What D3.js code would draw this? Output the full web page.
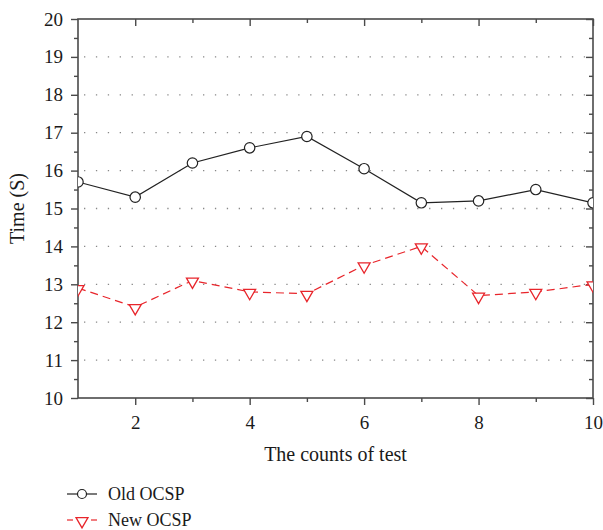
<!DOCTYPE html>
<html>
<head>
<meta charset="utf-8">
<script src="https://cdn.jsdelivr.net/npm/d3@7"></script>
<style>
  body { margin: 0; background: #fff; }
  svg text { font-family: "Liberation Serif", "DejaVu Serif", serif; fill: #1a1a1a; }
</style>
</head>
<body>
<div id="canva"></div>
<script>
const counts = [1, 2, 3, 4, 5, 6, 7, 8, 9, 10];
const oldOcsp = [15.7, 15.3, 16.2, 16.6, 16.9, 16.05, 15.15, 15.2, 15.5, 15.15];
const newOcsp = [12.9, 12.4, 13.1, 12.8, 12.75, 13.5, 14.0, 12.7, 12.8, 13.0];
const xTicks = [2, 4, 6, 8, 10];
const yTicks = [10, 11, 12, 13, 14, 15, 16, 17, 18, 19, 20];

const width = 603;
const height = 530;
const margin = { top: 19, right: 10, bottom: 132, left: 78 };
const axisColor = "#4a4a4a";

const svg = d3.select("#canva").append("svg")
    .attr("width", width)
    .attr("height", height);

const x = d3.scaleLinear()
    .domain([1, 10])
    .range([margin.left, width - margin.right]);

const y = d3.scaleLinear()
    .domain([10, 20])
    .range([height - margin.bottom, margin.top]);

svg.append("defs").append("clipPath")
    .attr("id", "plot-clip")
  .append("rect")
    .attr("x", margin.left)
    .attr("y", margin.top)
    .attr("width", x(10) - x(1))
    .attr("height", y(10) - y(20));

// dotted grid
svg.append("g")
    .selectAll("line")
    .data(yTicks.slice(1, -1))
    .join("line")
        .attr("x1", x(1) + 6)
        .attr("x2", x(10))
        .attr("y1", d => y(d))
        .attr("y2", d => y(d))
        .attr("stroke", "#888")
        .attr("stroke-width", 1.3)
        .attr("stroke-dasharray", "1.3,10.6");

const halfTicks = d3.range(10.5, 20, 1);
const minorX = [3, 5, 7, 9];

// bottom axis
svg.append("g")
    .attr("transform", `translate(0, ${y(10)})`)
    .call(d3.axisBottom(x).tickValues(xTicks).tickSize(7).tickPadding(11).tickFormat(d3.format("d")))
    .call(g => g.selectAll(".tick text").attr("font-size", "19px"))
    .call(g => g.select(".domain").remove());

svg.append("g")
    .attr("transform", `translate(0, ${y(10)})`)
    .call(d3.axisBottom(x).tickValues(minorX).tickSize(4).tickFormat(""))
    .call(g => g.select(".domain").remove());

// top axis, ticks inward
svg.append("g")
    .attr("transform", `translate(0, ${y(20)})`)
    .call(d3.axisBottom(x).tickValues(xTicks).tickSize(7).tickFormat(""))
    .call(g => g.select(".domain").remove());

svg.append("g")
    .attr("transform", `translate(0, ${y(20)})`)
    .call(d3.axisBottom(x).tickValues(minorX).tickSize(4).tickFormat(""))
    .call(g => g.select(".domain").remove());

// left axis
svg.append("g")
    .attr("transform", `translate(${x(1)}, 0)`)
    .call(d3.axisLeft(y).tickValues(yTicks).tickSize(7).tickPadding(8).tickFormat(d3.format("d")))
    .call(g => g.selectAll(".tick text").attr("font-size", "19px"))
    .call(g => g.select(".domain").remove());

svg.append("g")
    .attr("transform", `translate(${x(1)}, 0)`)
    .call(d3.axisLeft(y).tickValues(halfTicks).tickSize(4).tickFormat(""))
    .call(g => g.select(".domain").remove());

// right axis, ticks inward
svg.append("g")
    .attr("transform", `translate(${x(10)}, 0)`)
    .call(d3.axisLeft(y).tickValues(yTicks).tickSize(7).tickFormat(""))
    .call(g => g.select(".domain").remove());

svg.append("g")
    .attr("transform", `translate(${x(10)}, 0)`)
    .call(d3.axisLeft(y).tickValues(halfTicks).tickSize(4).tickFormat(""))
    .call(g => g.select(".domain").remove());

svg.selectAll(".tick line")
    .attr("stroke", axisColor)
    .attr("stroke-width", 1.4);

// frame
svg.append("rect")
    .attr("x", x(1))
    .attr("y", y(20))
    .attr("width", x(10) - x(1))
    .attr("height", y(10) - y(20))
    .attr("fill", "none")
    .attr("stroke", axisColor)
    .attr("stroke-width", 1.6);

const plot = svg.append("g").attr("clip-path", "url(#plot-clip)");

const line = d3.line()
    .x((d, i) => x(counts[i]))
    .y(d => y(d));

plot.append("path")
    .datum(newOcsp)
    .attr("d", line)
    .attr("fill", "none")
    .attr("stroke", "#e8252b")
    .attr("stroke-width", 1.2)
    .attr("stroke-dasharray", "8,5");

plot.append("path")
    .datum(oldOcsp)
    .attr("d", line)
    .attr("fill", "none")
    .attr("stroke", "#222")
    .attr("stroke-width", 1.2);

const tri = d3.symbol().type(d3.symbolTriangle).size(62);

plot.selectAll(".tri")
    .data(newOcsp)
    .join("path")
        .attr("class", "tri")
        .attr("d", tri)
        .attr("transform", (d, i) => `translate(${x(counts[i])}, ${y(d) + 1}) rotate(180)`)
        .attr("fill", "#fff")
        .attr("stroke", "#e8252b")
        .attr("stroke-width", 1.3);

plot.selectAll(".dot")
    .data(oldOcsp)
    .join("circle")
        .attr("class", "dot")
        .attr("cx", (d, i) => x(counts[i]))
        .attr("cy", d => y(d))
        .attr("r", 5.2)
        .attr("fill", "#fff")
        .attr("stroke", "#222")
        .attr("stroke-width", 1.2);

// axis titles
svg.append("text")
    .attr("x", (x(1) + x(10)) / 2)
    .attr("y", 461)
    .attr("text-anchor", "middle")
    .attr("font-size", "20px")
    .text("The counts of test");

svg.append("text")
    .attr("transform", `translate(24, ${(y(10) + y(20)) / 2}) rotate(-90)`)
    .attr("text-anchor", "middle")
    .attr("font-size", "20px")
    .text("Time (S)");

// legend
const legend = svg.append("g");
const legendItems = [
    { name: "Old OCSP", color: "#222", y: 494, shape: "circle" },
    { name: "New OCSP", color: "#e8252b", y: 520, shape: "tri" }
];

legendItems.forEach(item => {
    if (item.shape === "circle") {
        legend.append("line")
            .attr("x1", 67)
            .attr("x2", 97)
            .attr("y1", item.y)
            .attr("y2", item.y)
            .attr("stroke", item.color)
            .attr("stroke-width", 1.2);

        legend.append("circle")
            .attr("cx", 82)
            .attr("cy", item.y)
            .attr("r", 4.5)
            .attr("fill", "#fff")
            .attr("stroke", item.color)
            .attr("stroke-width", 1.2);
    } else {
        [[67, 73], [91, 97]].forEach(([a, b]) => {
            legend.append("line")
                .attr("x1", a)
                .attr("x2", b)
                .attr("y1", item.y)
                .attr("y2", item.y)
                .attr("stroke", item.color)
                .attr("stroke-width", 1.2);
        });

        legend.append("path")
            .attr("d", tri)
            .attr("transform", `translate(82, ${item.y + 1}) rotate(180)`)
            .attr("fill", "#fff")
            .attr("stroke", item.color)
            .attr("stroke-width", 1.3);
    }

    legend.append("text")
        .attr("x", 108)
        .attr("y", item.y + 6)
        .attr("font-size", "18px")
        .text(item.name);
});
</script>
</body>
</html>
